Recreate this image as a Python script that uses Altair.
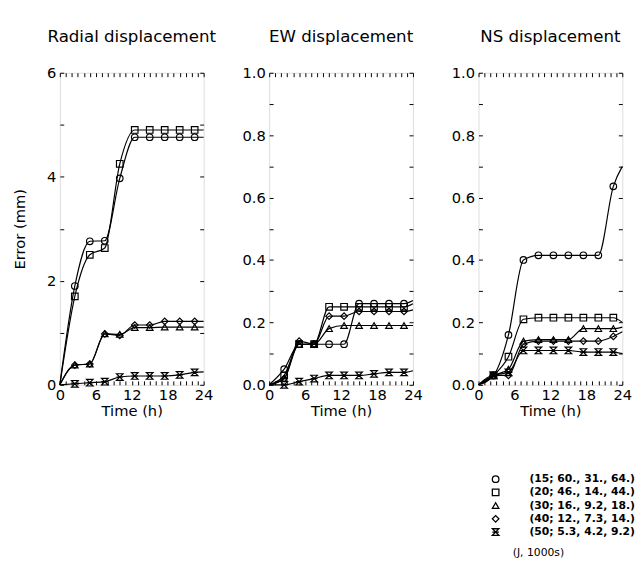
import altair as alt
import pandas as pd

# ---------------- data ----------------
times = [0, 2.5, 5, 7.5, 10, 12.5, 15, 17.5, 20, 22.5, 24]
series_labels = [
    "(15; 60., 31., 64.)",
    "(20; 46., 14., 44.)",
    "(30; 16., 9.2, 18.)",
    "(40; 12., 7.3, 14.)",
    "(50; 5.3, 4.2, 9.2)",
]
marker_shapes = [
    "circle",
    "square",
    "triangle-up",
    "diamond",
    "M-1,-1L1,-1L-1,1L1,1Z M-1,0L1,0",
]

radial_15 = [0, 1.90, 2.76, 2.77, 3.97, 4.76, 4.76, 4.76, 4.76, 4.76, 4.76]
radial_20 = [0, 1.70, 2.50, 2.63, 4.25, 4.90, 4.90, 4.90, 4.90, 4.90, 4.90]
radial_30 = [0, 0.38, 0.40, 0.98, 0.97, 1.10, 1.10, 1.11, 1.11, 1.11, 1.11]
radial_40 = [0, 0.38, 0.40, 0.98, 0.95, 1.15, 1.15, 1.22, 1.22, 1.22, 1.22]
radial_50 = [0, 0.02, 0.04, 0.06, 0.15, 0.17, 0.17, 0.17, 0.19, 0.24, 0.25]

ew_15 = [0, 0.05, 0.13, 0.13, 0.13, 0.13, 0.26, 0.26, 0.26, 0.26, 0.27]
ew_20 = [0, 0.03, 0.13, 0.13, 0.25, 0.25, 0.25, 0.25, 0.25, 0.25, 0.26]
ew_30 = [0, 0.02, 0.13, 0.13, 0.18, 0.19, 0.19, 0.19, 0.19, 0.19, 0.19]
ew_40 = [0, 0.02, 0.14, 0.13, 0.22, 0.22, 0.235, 0.235, 0.235, 0.235, 0.24]
ew_50 = [0, 0.00, 0.01, 0.02, 0.03, 0.03, 0.03, 0.035, 0.04, 0.04, 0.045]

ns_15 = [0, 0.03, 0.16, 0.40, 0.415, 0.415, 0.415, 0.415, 0.415, 0.636, 0.70]
ns_20 = [0, 0.03, 0.09, 0.21, 0.215, 0.215, 0.215, 0.215, 0.215, 0.215, 0.20]
ns_30 = [0, 0.03, 0.05, 0.14, 0.145, 0.145, 0.145, 0.18, 0.18, 0.18, 0.185]
ns_40 = [0, 0.03, 0.03, 0.13, 0.14, 0.14, 0.14, 0.14, 0.14, 0.155, 0.17]
ns_50 = [0, 0.03, 0.04, 0.11, 0.11, 0.11, 0.11, 0.105, 0.105, 0.105, 0.10]

panel_titles = ["Radial displacement", "EW displacement", "NS displacement"]
note_text = "(J, 1000s)"

FONT = "DejaVu Sans"


def make_df(series_values):
    rows = []
    for label, vals in zip(series_labels, series_values):
        for i, (t, v) in enumerate(zip(times, vals)):
            rows.append({"time": t, "value": v, "series": label,
                         "marker": 0 < i < len(times) - 1})
    return pd.DataFrame(rows)


shape_scale = alt.Scale(domain=series_labels, range=marker_shapes)
legend = alt.Legend(
    orient="none", legendX=440, legendY=410, title=None,
    labelFont=FONT, labelFontSize=11, labelFontWeight="bold",
    labelColor="black",
    symbolStrokeColor="black", symbolFillColor="transparent",
    symbolStrokeWidth=1.3, symbolSize=45, labelOffset=29,
    rowPadding=0.5, padding=0,
)


def panel(df, title, ymax, minor, major, fmt, ytitle, extra=None):
    n = int(round(ymax / minor))
    yvals = [round(i * minor, 3) for i in range(n + 1)]
    ratio = int(round(major / minor))
    xs = alt.Scale(domain=[0, 24], nice=False, zero=False)
    ys = alt.Scale(domain=[0, ymax], nice=False, zero=False)
    bottom = alt.Axis(
        orient="bottom", values=list(range(0, 25)),
        labelExpr="datum.value % 6 === 0 ? datum.label : ''",
        offset=-4, tickSize=4, domain=False, grid=False, labelPadding=3,
        labelFont=FONT, labelFontSize=15, labelColor="black",
        labelFlush=False, labelOverlap=False, tickColor="black",
        title="Time (h)", titleFont=FONT, titleFontSize=15,
        titleFontWeight="normal", titleColor="black", titlePadding=1,
    )
    top = alt.Axis(orient="top", values=list(range(0, 25)), offset=-4,
                   tickSize=4, domain=False, grid=False, labels=False,
                   title=None, tickColor="black", minExtent=0, maxExtent=0)
    left_kwargs = dict(
        orient="left", values=yvals,
        labelExpr=f"round(datum.value/{minor}) % {ratio} === 0 ? format(datum.value, '{fmt}') : ''",
        offset=-4, tickSize=4, domain=False, grid=False, labelPadding=4,
        labelFont=FONT, labelFontSize=15, labelColor="black",
        labelFlush=False, labelOverlap=False, tickColor="black",
    )
    if ytitle:
        left_kwargs.update(title=ytitle, titleFont=FONT, titleFontSize=15,
                           titleFontWeight="normal", titleColor="black",
                           titlePadding=20)
    else:
        left_kwargs.update(title=None)
    left = alt.Axis(**left_kwargs)
    right = alt.Axis(orient="right", values=yvals, offset=-4, tickSize=4,
                     domain=False, grid=False, labels=False, title=None,
                     tickColor="black", minExtent=0, maxExtent=0)

    base = alt.Chart(df)
    lines = base.mark_line(interpolate="monotone", color="black",
                           strokeWidth=1.2).encode(
        x=alt.X("time:Q", scale=xs, axis=bottom),
        y=alt.Y("value:Q", scale=ys, axis=left),
        detail="series:N",
    )
    points = base.transform_filter("datum.marker").mark_point(
        color="black", filled=False, size=45, strokeWidth=1.2, opacity=1
    ).encode(
        x=alt.X("time:Q", scale=xs, axis=top),
        y=alt.Y("value:Q", scale=ys, axis=right),
        shape=alt.Shape("series:N", scale=shape_scale, legend=legend,
                        sort=series_labels),
    )
    layers = [lines, points]
    if extra is not None:
        layers.append(extra)
    return alt.layer(*layers).resolve_axis(
        x="independent", y="independent"
    ).properties(
        width=147, height=319,
        title=alt.TitleParams(title, font=FONT, fontSize=17,
                              fontWeight="normal", color="black", offset=20),
    )


note = alt.Chart(pd.DataFrame({"note": [note_text]})).mark_text(
    font=FONT, fontSize=11, align="left", baseline="middle", color="black"
).encode(text="note:N", x=alt.value(35), y=alt.value(491))

p1 = panel(make_df([radial_15, radial_20, radial_30, radial_40, radial_50]),
           panel_titles[0], 6, 1, 2, ".0f", "Error (mm)")
p2 = panel(make_df([ew_15, ew_20, ew_30, ew_40, ew_50]),
           panel_titles[1], 1.0, 0.1, 0.2, ".1f", None)
p3 = panel(make_df([ns_15, ns_20, ns_30, ns_40, ns_50]),
           panel_titles[2], 1.0, 0.1, 0.2, ".1f", None, extra=note)

chart = alt.hconcat(p1, p2, p3, spacing=67, bounds="flush").properties(
    padding={"left": 3, "top": 14, "right": 0, "bottom": 0}
).configure_view(stroke="black", strokeWidth=2).configure(background="white")

chart.save("out.html", embed_options={"renderer": "svg", "actions": False})
